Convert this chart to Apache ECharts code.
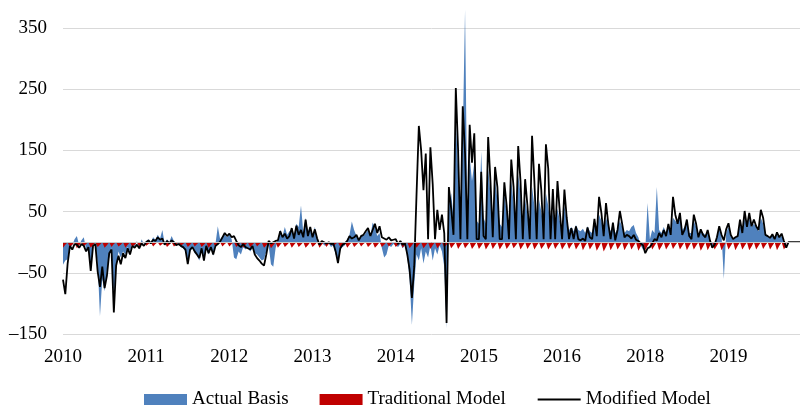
<!DOCTYPE html>
<html>
<head>
<meta charset="utf-8">
<script src="https://cdn.jsdelivr.net/npm/echarts@6/dist/echarts.min.js"></script>
<style>
  html, body { margin: 0; padding: 0; background: #fff; }
  #chart { width: 800px; height: 406px; }
</style>
</head>
<body>
<div id="chart"></div>
<script>
// tick labels of the x axis (the source chart really skips 2017)
var yearLabels = ['2010', '2011', '2012', '2013', '2014', '2015', '2016', '2018', '2019'];
var stepsPerYear = 36;

// actual basis, one row per year
var actualBasis = [
    -37,-30,-28,-10,-5,5,10,-5,3,8,-12,-10,-40,-5,0,-35,-121,-60,-80,-45,-25,-10,-95,-40,-15,-25,-15,-20,-8,-15,-2,-8,2,-12,5,-3,
    2,5,0,8,4,12,6,20,-2,5,0,10,2,-3,-2,-8,-10,-15,-30,-15,-10,-18,-22,-30,-14,-25,-10,-20,-10,-22,-2,26,5,10,12,8,
    12,5,-25,-28,-15,-20,-8,-12,-8,-15,-10,-18,-20,-25,-30,-28,-15,-5,-36,-40,-10,5,20,10,25,12,18,20,10,30,25,60,15,40,18,25,
    10,25,5,-8,0,-5,-6,-2,-8,-5,-20,-30,-12,-8,-5,5,12,34,20,10,5,12,10,15,20,8,32,25,10,15,-10,-25,-20,-5,-8,-3,
    -5,-8,-3,-10,-5,-25,-60,-135,-70,-20,-30,-10,-35,-15,-25,-5,-30,-10,-20,-5,-15,-40,-140,60,80,40,200,120,30,170,380,40,140,100,130,35,
    30,148,40,30,120,80,30,100,70,30,25,80,50,25,100,65,25,110,80,25,70,45,25,90,60,25,70,50,25,80,60,25,50,25,55,35,
    25,60,35,20,25,18,28,20,18,22,15,26,18,15,35,22,45,35,20,40,28,18,30,15,22,35,25,15,20,18,25,28,15,8,-5,-12,
    -12,64,5,20,15,90,20,15,25,15,30,18,40,35,30,40,20,25,35,15,15,35,25,10,20,15,12,15,5,-8,-4,8,20,12,-60,15,
    25,12,5,8,10,30,15,40,25,40,25,30,25,18,40,30,12,10,8,12,5,12,8,10,2,-8,null,null,null,null,null,null
];

// traditional model
var traditionalModel = [
    -9,-4,0,-8,-4,0,-10,-5,0,-7,-3,0,-9,-4,0,-8,-4,0,-9,-5,0,-8,-3,0,-7,-4,0,-9,-4,0,-8,-4,0,-7,-3,0,
    -6,-3,0,-7,-3,0,-6,-3,0,-8,-4,0,-7,-4,0,-6,-3,0,-8,-4,0,-7,-3,0,-8,-4,0,-9,-4,0,-8,-4,0,-7,-3,0,
    -7,-3,0,-8,-4,0,-9,-4,0,-8,-4,0,-7,-3,0,-9,-5,0,-10,-5,0,-9,-4,0,-8,-4,0,-9,-4,0,-8,-4,0,-9,-5,0,
    -8,-4,0,-9,-4,0,-8,-3,0,-7,-3,0,-8,-4,0,-9,-4,0,-8,-4,0,-7,-3,0,-8,-4,0,-9,-5,0,-8,-4,0,-7,-3,0,
    -8,-4,0,-9,-4,0,-10,-5,0,-9,-4,0,-10,-5,0,-11,-5,0,-10,-5,0,-9,-4,0,-10,-5,0,-11,-5,0,-10,-5,0,-11,-6,0,
    -11,-6,0,-12,-6,0,-11,-5,0,-12,-6,0,-11,-6,0,-10,-5,0,-12,-6,0,-11,-5,0,-12,-6,0,-11,-6,0,-12,-6,0,-11,-5,0,
    -12,-6,0,-11,-5,0,-12,-6,0,-13,-6,0,-12,-6,0,-14,-7,0,-15,-8,0,-13,-6,0,-12,-6,0,-13,-6,0,-12,-6,0,-14,-7,0,
    -13,-6,0,-12,-6,0,-13,-7,0,-12,-6,0,-11,-5,0,-12,-6,0,-13,-6,0,-12,-6,0,-14,-7,0,-13,-6,0,-12,-6,0,-13,-6,0,
    -12,-6,0,-13,-6,0,-12,-6,0,-13,-7,0,-12,-6,0,-11,-5,0,-12,-6,0,-13,-6,0,-12,-6,null,null,null,null,null,null
];

// modified model
var modifiedModel = [
    -61,-85,-35,-6,-12,-3,-4,-9,-3,-6,-15,-8,-47,-6,-3,-48,-73,-40,-75,-55,-18,-12,-115,-38,-22,-36,-18,-26,-10,-20,-6,-9,-4,-10,-2,-6,
    0,3,-2,4,2,8,4,6,-4,2,-2,3,0,-5,-3,-6,-8,-12,-36,-12,-8,-15,-20,-26,-10,-30,-6,-18,-8,-20,-6,-3,1,8,15,10,
    14,8,10,2,-5,-8,-3,-8,-10,-12,-6,-20,-26,-30,-35,-38,-20,2,-2,0,2,3,18,8,14,6,10,23,6,27,12,20,8,37,10,25,
    8,21,6,-4,2,0,-2,0,-3,-2,-15,-34,-10,-4,-2,2,10,6,8,12,3,10,12,18,23,10,20,30,15,26,8,6,4,8,3,4,
    5,-3,2,-4,-2,-20,-45,-91,-40,78,190,150,85,145,5,155,95,5,53,20,45,15,-132,90,55,12,252,150,5,222,145,5,192,130,178,5,
    5,115,10,5,172,100,8,123,90,5,5,98,60,5,135,90,5,157,100,5,103,60,5,174,100,5,128,85,5,160,120,5,87,5,100,50,
    5,86,40,5,23,5,26,5,3,6,2,24,8,5,38,10,74,48,10,64,30,5,32,3,20,51,30,8,12,10,6,12,4,2,-2,-5,
    -18,-10,-8,-2,5,3,15,8,20,10,30,12,74,45,30,48,12,20,37,10,5,45,30,8,21,12,8,20,3,-9,-4,8,26,12,3,21,
    31,12,5,8,10,37,15,51,25,48,26,37,26,20,53,40,12,10,7,13,5,16,8,14,2,-9,0,0,0,0,0,0
];

function toPoints(arr) {
    return arr.map(function (v, i) { return [i / stepsPerYear, v]; });
}

var font = "'Liberation Serif', 'Times New Roman', serif";
var fontSize = 19;
var myChart = echarts.init(document.getElementById('chart'));

var option = {
    animation: false,
    grid: { left: 63, right: 0, top: 28, bottom: 72 },
    legend: {
        left: 139,
        top: 385,
        itemWidth: 43,
        itemHeight: 11,
        itemGap: 31,
        textStyle: { fontFamily: font, fontSize: fontSize, color: '#000' },
        data: [
            { name: 'Actual Basis', icon: 'rect' },
            { name: 'Traditional Model', icon: 'rect' },
            { name: 'Modified Model', itemStyle: { opacity: 0 } }
        ]
    },
    xAxis: {
        type: 'value',
        min: 0,
        max: 8.86,
        interval: 1,
        axisLine: { show: false },
        axisTick: { show: false },
        splitLine: { show: false },
        axisLabel: {
            margin: 14,
            fontFamily: font,
            fontSize: fontSize,
            color: '#000',
            showMaxLabel: false,
            formatter: function (v) {
                var k = Math.round(v);
                return Math.abs(v - k) < 1e-6 && yearLabels[k] ? yearLabels[k] : '';
            }
        }
    },
    yAxis: {
        type: 'value',
        min: -150,
        max: 350,
        interval: 100,
        axisLine: { show: false },
        axisTick: { show: false },
        splitLine: { lineStyle: { color: '#d9d9d9', width: 1 } },
        axisLabel: {
            margin: 16,
            fontFamily: font,
            fontSize: fontSize,
            color: '#000',
            formatter: function (v) {
                return v < 0 ? '\u2013' + Math.abs(v) : String(v);
            }
        }
    },
    series: [
        {
            name: 'Actual Basis',
            type: 'line',
            data: toPoints(actualBasis),
            symbol: 'none',
            clip: false,
            z: 1,
            itemStyle: { color: '#4F81BD' },
            lineStyle: { width: 0 },
            areaStyle: { color: '#4F81BD', opacity: 1 }
        },
        {
            name: 'Traditional Model',
            type: 'line',
            data: toPoints(traditionalModel),
            symbol: 'none',
            z: 2,
            itemStyle: { color: '#C00000' },
            lineStyle: { width: 0 },
            areaStyle: { color: '#C00000', opacity: 1 },
            markLine: {
                silent: true,
                symbol: 'none',
                label: { show: false },
                lineStyle: { color: '#c8c8c8', width: 1, type: 'solid' },
                data: [{ yAxis: 0 }]
            }
        },
        {
            name: 'Modified Model',
            type: 'line',
            data: toPoints(modifiedModel),
            symbol: 'none',
            z: 3,
            itemStyle: { color: '#000' },
            lineStyle: { color: '#000', width: 1.8 }
        }
    ]
};
myChart.setOption(option);
</script>
</body>
</html>
